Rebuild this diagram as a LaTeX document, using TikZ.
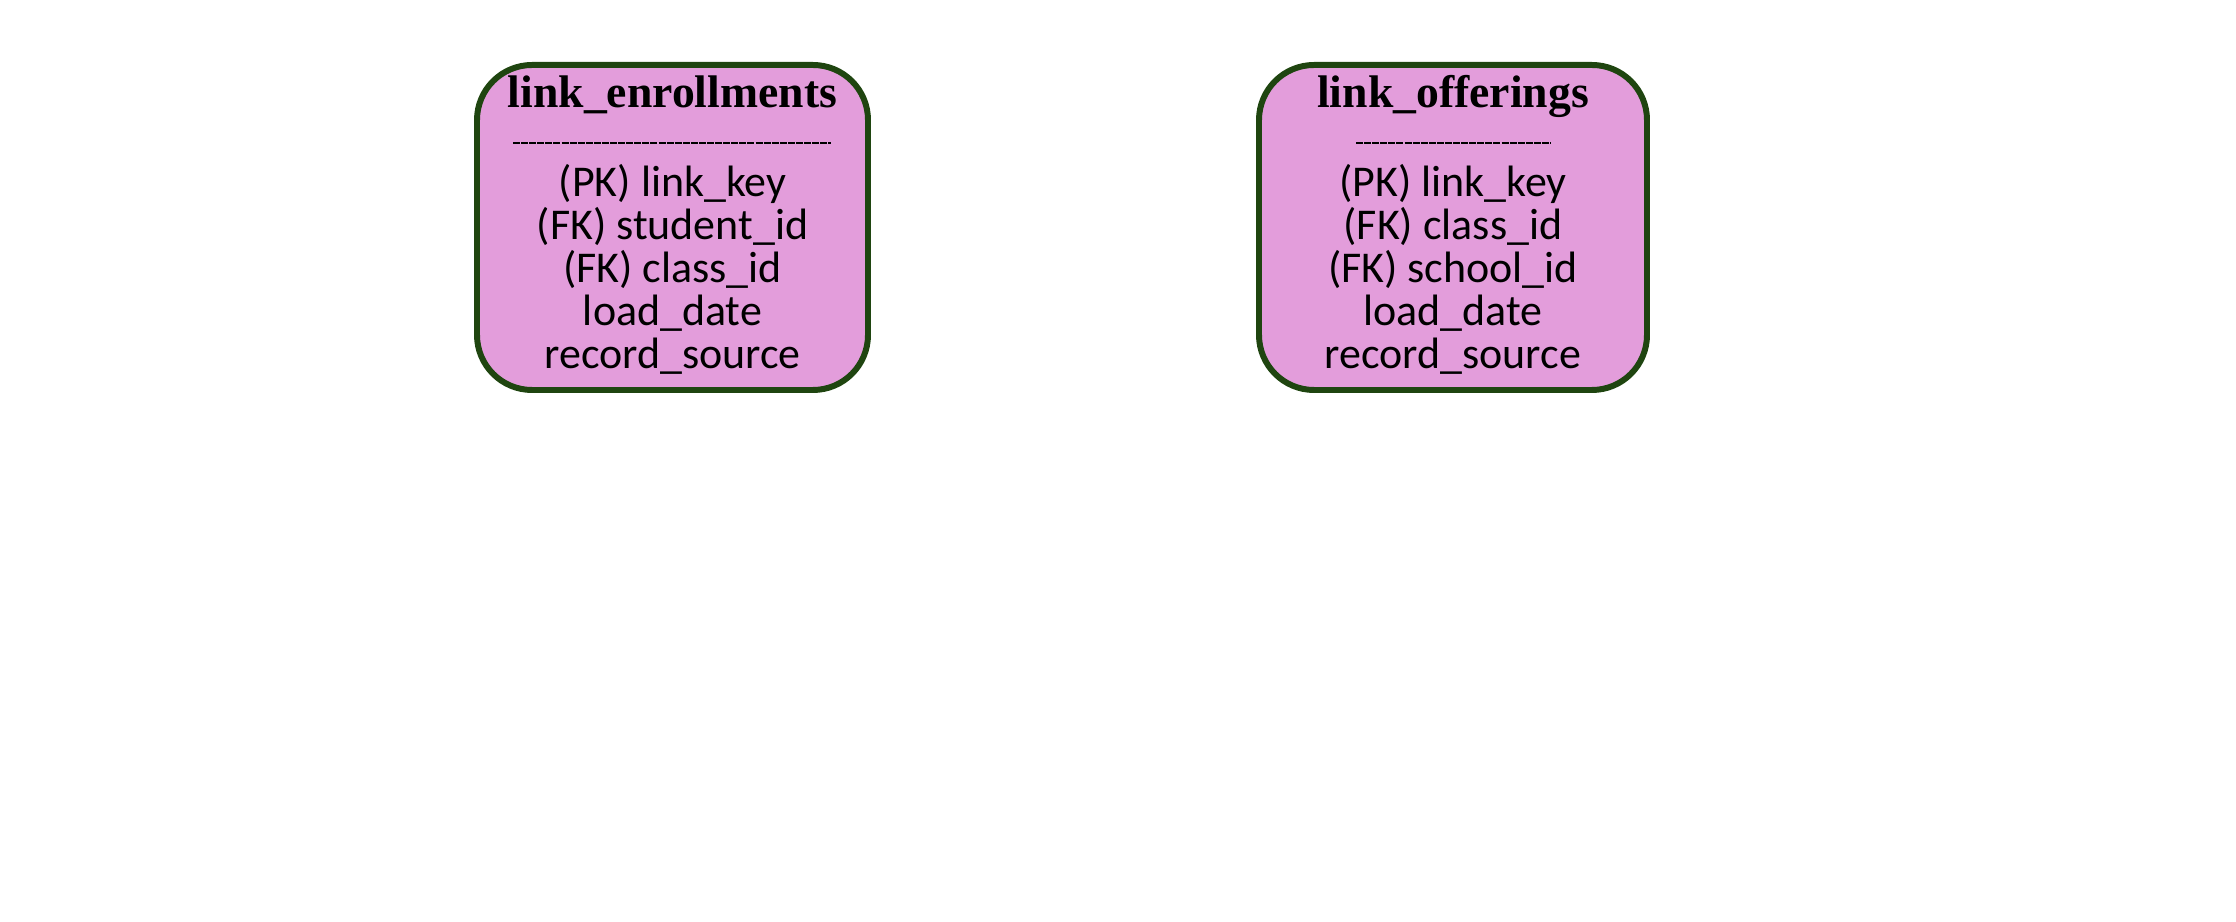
\documentclass[tikz,border=0pt]{standalone}
\usepackage{fontspec}
\setmainfont{Carlito}
\newfontfamily\titlefont{Liberation Serif}
\usetikzlibrary{positioning}
\definecolor{linkfill}{HTML}{E39DDB}
\definecolor{linkedge}{HTML}{1F4510}
\tikzset{
    linkbox/.style={draw=linkedge, fill=linkfill, line width=1.7pt,
        rounded corners=0.55cm, minimum height=3.25cm},
    linktitle/.style={font=\titlefont\bfseries\fontsize{13}{15}\selectfont},
    linkrows/.style={align=center, font=\fontsize{12.5}{12.2}\selectfont,
        inner sep=0pt},
    linksep/.style={line width=0.4pt, dash pattern=on 2pt off 0.3pt}
}
\begin{document}
\begin{tikzpicture}
    \useasboundingbox (0,0) rectangle (22.36,-9.22);
    % link_enrollments
    \node [linkbox, minimum width=3.91cm] (enroll) at (6.725,-2.275) {};
    \node [linktitle, anchor=base] (enrolltitle) at (6.725,-1.08) {link\_enrollments};
    \draw [linksep] (5.13,-1.43) -- (8.31,-1.43);
    \node [linkrows, anchor=north] (enrollrows) at (6.725,-1.64)
        {(PK) link\_key\\(FK) student\_id\\(FK) class\_id\\load\_date\\record\_source};
    % link_offerings
    \node [linkbox, minimum width=3.88cm] (offer) at (14.53,-2.275) {};
    \node [linktitle, anchor=base] (offertitle) at (14.53,-1.08) {link\_offerings};
    \draw [linksep] (13.56,-1.43) -- (15.51,-1.43);
    \node [linkrows, anchor=north] (offerrows) at (14.53,-1.64)
        {(PK) link\_key\\(FK) class\_id\\(FK) school\_id\\load\_date\\record\_source};
\end{tikzpicture}
\end{document}
